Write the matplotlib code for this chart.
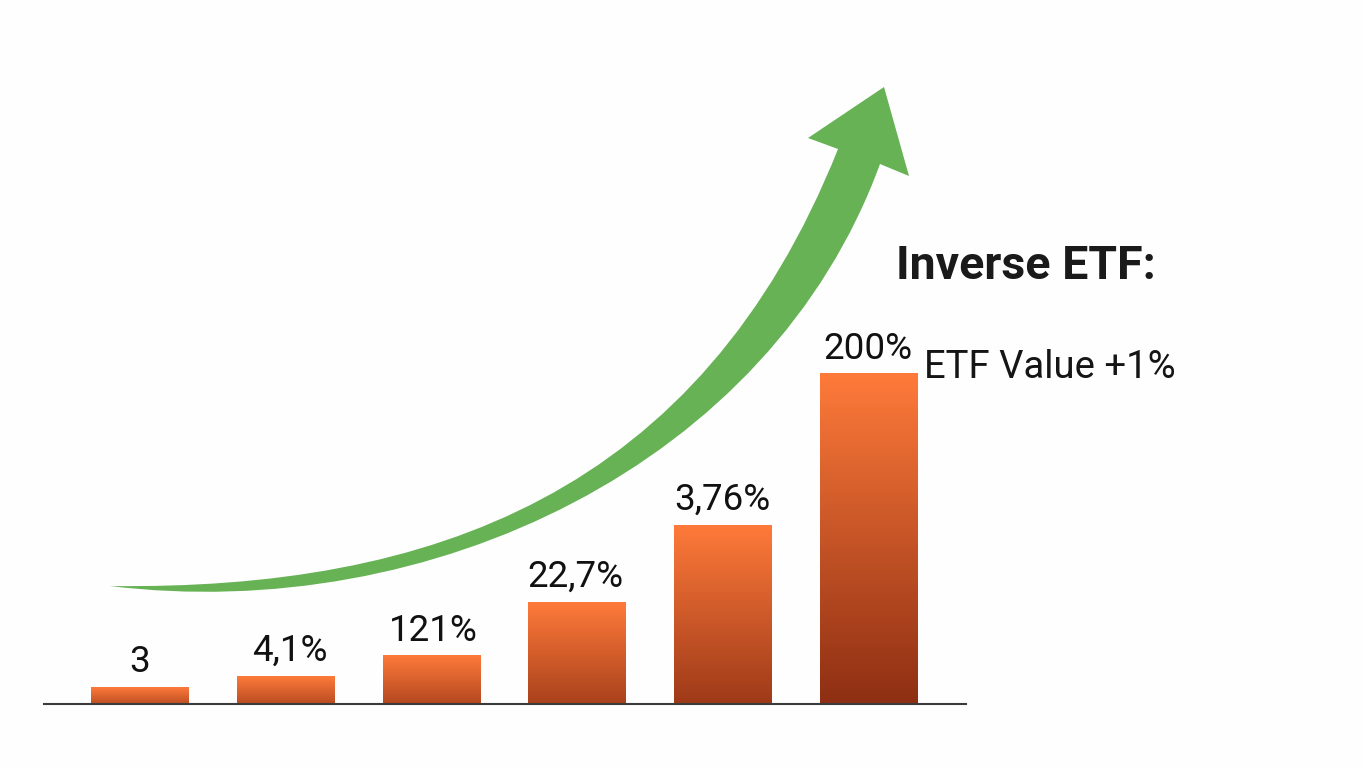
import numpy as np
import matplotlib
matplotlib.use('Agg')
import matplotlib.pyplot as plt
from matplotlib.colors import LinearSegmentedColormap, to_rgb
from matplotlib.path import Path
from matplotlib.patches import PathPatch

# bar data
etiquetas = ['3', '4,1%', '121%', '22,7%', '3,76%', '200%']
alturas = [17, 28, 49, 102, 179, 331]
# small nudges so each label sits where it does in the picture
ajuste_x = [0, 4, 2, -2, -1, -1]
ajuste_y = [7, 7, 6, 7, 7, 6]

# arrow outline in picture pixels: two bezier edges and the head
borde_sup = [(110, 586), (430, 590), (700, 495), (838, 149)]
borde_inf = [(880, 164), (770, 465), (430, 625), (110, 586)]
punta = [(808, 138), (884, 87), (909, 176)]

ANCHO, ALTO = 1365, 768
FONDO = '#fefefe'
VERDE = '#67b255'
NARANJA = '#fe7a3a'
MARRON = '#8e2f13'

plt.rcParams['font.family'] = ['Roboto', 'DejaVu Sans']
fig = plt.figure(figsize=(ANCHO / 100, ALTO / 100), dpi=100, facecolor=FONDO)

# bars axes: the bottom spine is the baseline at y=704
ax = fig.add_axes([44 / ANCHO, (ALTO - 704) / ALTO, 922 / ANCHO, 704 / ALTO])
ax.set_facecolor('none')
for lado in ['top', 'left', 'right']:
    ax.spines[lado].set_visible(False)
ax.spines['bottom'].set_color('#3c3c3c')
ax.spines['bottom'].set_linewidth(1.5)
ax.set_xticks([])
ax.set_yticks([])

x = np.arange(len(alturas))
barras = ax.bar(x, alturas, width=0.672, color='none', linewidth=0)
altura_max = max(alturas)
for barra, h, etiqueta, dx, dy in zip(barras, alturas, etiquetas, ajuste_x, ajuste_y):
    # short bars only reach part of the way to the dark colour
    t = 0.45 + 0.55 * (h / altura_max) ** 0.5
    fondo_barra = np.array(to_rgb(NARANJA)) * (1 - t) + np.array(to_rgb(MARRON)) * t
    cmap = LinearSegmentedColormap.from_list('barra', [fondo_barra, NARANJA])
    izq = barra.get_x()
    img = ax.imshow(np.linspace(0, 1, 128).reshape(-1, 1), cmap=cmap, origin='lower', aspect='auto',
                    extent=(izq, izq + barra.get_width(), 0, h), zorder=2)
    img.set_clip_path(barra)
    ax.annotate(etiqueta, (izq + barra.get_width() / 2, h), xytext=(dx * 0.72, dy * 0.72),
                textcoords='offset points', ha='center', va='bottom', fontsize=26.5, color='#111111')
ax.set_xlim(-0.658, 5.665)
ax.set_ylim(0, 704)

# overlay in pixel coordinates for the arrow and the side text
capa = fig.add_axes([0, 0, 1, 1])
capa.set_xlim(0, ANCHO)
capa.set_ylim(ALTO, 0)
capa.axis('off')

verts = borde_sup + punta + borde_inf + [borde_sup[0]]
codes = ([Path.MOVETO] + [Path.CURVE4] * 3 + [Path.LINETO] * 4
         + [Path.CURVE4] * 3 + [Path.CLOSEPOLY])
capa.add_patch(PathPatch(Path(verts, codes), facecolor=VERDE, edgecolor='none', zorder=3))

capa.text(896, 266, 'Inverse ETF:', fontsize=33.5, fontweight='bold', color='#1a1a1a', ha='left', va='center')
capa.text(924, 367, 'ETF Value +1%', fontsize=27.5, color='#151515', ha='left', va='center')

fig.savefig('out.png', dpi=100, facecolor=FONDO)
